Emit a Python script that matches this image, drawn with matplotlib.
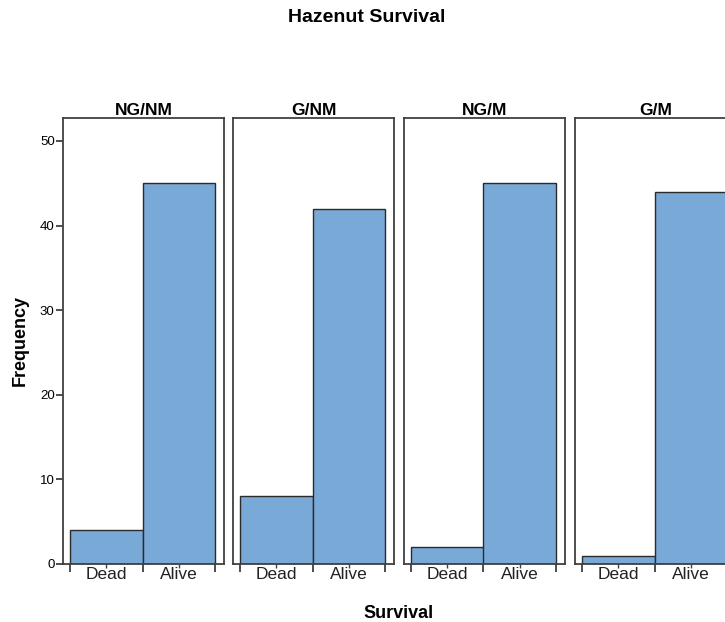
import numpy as np
import matplotlib.pyplot as plt
from matplotlib.ticker import FixedLocator

# Data
groups = ["NG/NM", "G/NM", "NG/M", "G/M"]
categories = ["Dead", "Alive"]
dead_counts = [4, 8, 2, 1]
alive_counts = [45, 42, 45, 44]

plt.rcParams['font.family'] = ['Liberation Sans', 'DejaVu Sans']

bar_color = "#79a9d6"
frame_color = "#404040"

fig = plt.figure(figsize=(7.25, 6.22), dpi=100)
W, H = 725.0, 622.0

# panel geometry in pixels
panel_left = [63, 233, 404, 575]
panel_w = 161
y_top, y_bot = 118, 564
px_per_unit = 72.5

x = np.arange(len(categories))
for i, grp in enumerate(groups):
    ax = fig.add_axes([panel_left[i] / W, (H - y_bot) / H,
                       panel_w / W, (y_bot - y_top) / H])
    vals = [dead_counts[i], alive_counts[i]]
    ax.bar(x, vals, width=1.0, color=bar_color, edgecolor="#2b2b2b",
           linewidth=1.0, zorder=2)
    ax.set_xlim(-0.5 - 7 / px_per_unit, 1.5 + 9 / px_per_unit)
    ax.set_ylim(0, (y_bot - y_top) / 8.46)
    for s in ax.spines.values():
        s.set_color(frame_color)
        s.set_linewidth(1.3)

    ax.set_xticks(x)
    ax.set_xticklabels(categories, fontsize=12.5, color="#222222")
    ax.xaxis.set_minor_locator(FixedLocator([-0.5, 0.5, 1.5]))
    ax.tick_params(axis="x", which="major", length=3, width=1,
                   color=frame_color, pad=-1)
    ax.tick_params(axis="x", which="minor", length=6, width=1.3,
                   color=frame_color)

    if i == 0:
        ax.set_yticks([0, 10, 20, 30, 40, 50])
        ax.tick_params(axis="y", length=5, width=1.3, color=frame_color,
                       labelsize=9.5, pad=1)
    else:
        ax.set_yticks([])

    ax.set_title(grp, fontsize=12.5, fontweight="bold", pad=2)

fig.text(367 / W, 1 - 18 / H, "Hazenut Survival", ha="center", va="center",
         fontsize=14, fontweight="bold")
fig.text(20 / W, 1 - 340 / H, "Frequency", ha="center", va="center",
         rotation=90, fontsize=13, fontweight="bold")
fig.text(399 / W, 1 - 613 / H, "Survival", ha="center", va="center",
         fontsize=13, fontweight="bold")

fig.savefig("out.png", dpi=100)
